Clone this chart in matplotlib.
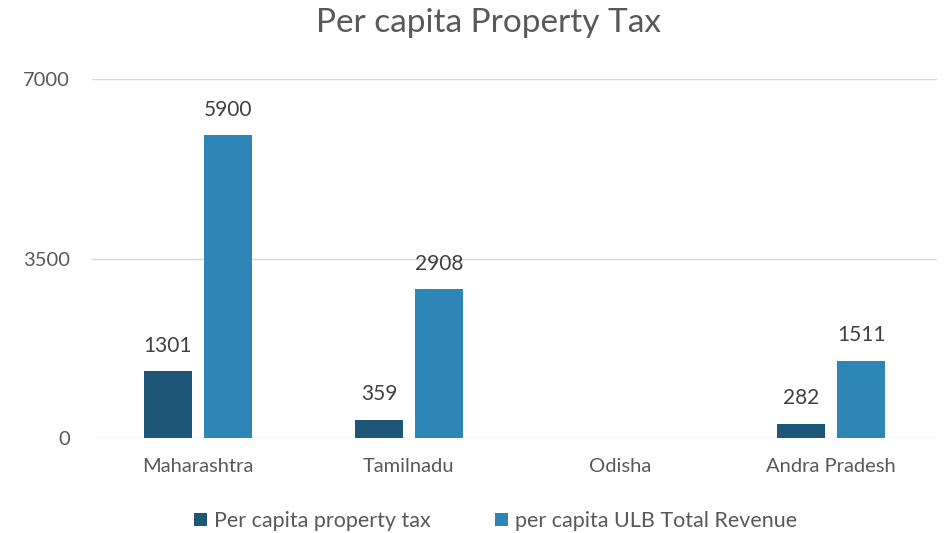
import matplotlib
matplotlib.use("Agg")
import matplotlib.pyplot as plt
import numpy as np

states = ["Maharashtra", "Tamilnadu", "Odisha", "Andra Pradesh"]
property_tax = [1301, 359, np.nan, 282]
ulb_revenue = [5900, 2908, np.nan, 1511]
series_names = ["Per capita property tax", "per capita ULB Total Revenue"]

plt.rcParams['font.family'] = ['Lato', 'DejaVu Sans']

fig = plt.figure(figsize=(9.44, 5.33), dpi=100)
ax = fig.add_axes([0.0975, 0.178, 0.895, 0.674])

x = np.arange(len(states))
w = 0.227
off = 0.142
b1 = ax.bar(x - off, property_tax, w, color='#1d5677', label=series_names[0], zorder=3)
b2 = ax.bar(x + off, ulb_revenue, w, color='#2e86b6', label=series_names[1], zorder=3)

for bars, vals in ((b1, property_tax), (b2, ulb_revenue)):
    for r, v in zip(bars, vals):
        if np.isnan(v):
            continue
        ax.annotate(str(v), (r.get_x() + r.get_width() / 2, v), xytext=(0, 11),
                    textcoords='offset points', ha='center', va='bottom',
                    fontsize=15, color='#404040')

ax.set_xlim(-0.5, 3.5)
ax.set_ylim(0, 7000)
ax.set_yticks([0, 3500, 7000])
ax.set_xticks(x)
ax.set_xticklabels(states)
ax.grid(axis='y', color='#d9d9d9', linewidth=1, zorder=0)
for s in ax.spines.values():
    s.set_visible(False)
ax.tick_params(length=0, labelsize=14.5, colors='#595959')
ax.tick_params(axis='y', pad=16)
ax.tick_params(axis='x', pad=14)

fig.text(0.517, 0.985, "Per capita Property Tax", ha='center', va='top',
         fontsize=24, color='#595959')
fig.legend(handles=[b1, b2], loc='lower center', bbox_to_anchor=(0.525, -0.033), ncol=2,
           frameon=False, fontsize=15.5, labelcolor='#595959', handlelength=0.6,
           handleheight=0.6, handletextpad=0.3, columnspacing=3)

fig.savefig("out.png", dpi=100)
